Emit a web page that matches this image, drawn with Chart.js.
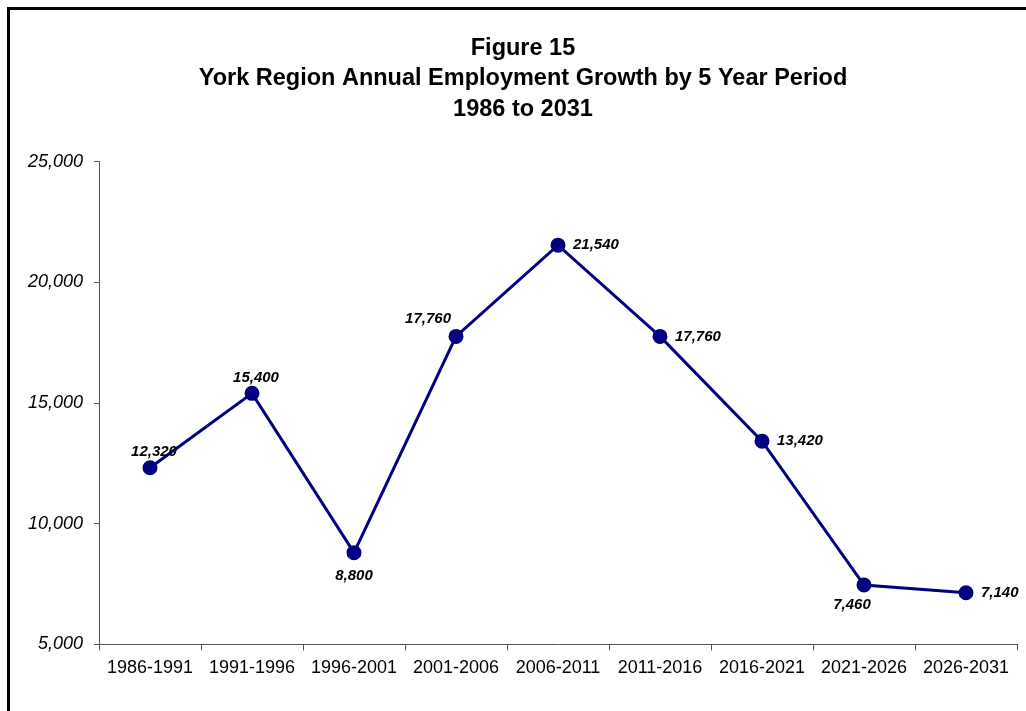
<!DOCTYPE html>
<html>
<head>
<meta charset="utf-8">
<script src="https://cdn.jsdelivr.net/npm/chart.js@4.4.0/dist/chart.umd.min.js"></script>
<style>
    html, body { margin: 0; padding: 0; background: #fff; overflow: hidden; }
    .wrap { position: relative; width: 1026px; height: 711px; }
    .frame {
        position: absolute; left: 7px; top: 7px; width: 1040px; height: 720px;
        border-left: 3px solid #000; border-top: 3px solid #000;
    }
    canvas { position: absolute; left: 0; top: 0; }
</style>
</head>
<body>
<div class="wrap">
    <div class="frame"></div>
    <canvas id="growthChart" width="1026" height="711"></canvas>
</div>
<script>
// datos
const periods = ['1986-1991', '1991-1996', '1996-2001', '2001-2006', '2006-2011',
                 '2011-2016', '2016-2021', '2021-2026', '2026-2031'];
const growth = [12320, 15400, 8800, 17760, 21540, 17760, 13420, 7460, 7140];
const yTicks = [5000, 10000, 15000, 20000, 25000];
// posición de cada etiqueta respecto al punto
const labelPos = ['above', 'above', 'below', 'aboveLeft', 'right', 'right', 'right', 'belowLeft', 'right'];

const NAVY = '#000080';
const FONT = '"Liberation Sans", Arial, sans-serif';

const fmt = v => v.toLocaleString('en-US');

// etiquetas de valor junto a cada punto
const valueLabels = {
    id: 'valueLabels',
    afterDatasetsDraw(chart) {
        const ctx = chart.ctx;
        const meta = chart.getDatasetMeta(0);
        ctx.save();
        ctx.font = 'italic bold 15px ' + FONT;
        ctx.fillStyle = '#000';
        ctx.textBaseline = 'middle';
        meta.data.forEach((pt, i) => {
            const txt = fmt(growth[i]);
            let x = pt.x, y = pt.y, align = 'center';
            switch (labelPos[i]) {
                case 'above': x += 4; y -= 16; break;
                case 'below': y += 23; break;
                case 'aboveLeft': x -= 5; y -= 18; align = 'right'; break;
                case 'right': x += 15; align = 'left'; break;
                case 'belowLeft': x -= 12; y += 20; break;
            }
            ctx.textAlign = align;
            ctx.fillText(txt, x, y);
        });
        ctx.restore();
    }
};

const ctx = document.getElementById('growthChart').getContext('2d');
new Chart(ctx, {
    type: 'line',
    data: {
        labels: periods,
        datasets: [{
            data: growth,
            borderColor: NAVY,
            backgroundColor: NAVY,
            borderWidth: 3,
            pointRadius: 6,
            pointBackgroundColor: NAVY,
            pointBorderColor: NAVY,
            tension: 0
        }]
    },
    options: {
        responsive: false,
        animation: false,
        layout: { padding: { left: 27, right: 7, top: 0, bottom: 25 } },
        plugins: {
            legend: { display: false },
            tooltip: { enabled: false },
            title: {
                display: true,
                text: ['Figure 15', 'York Region Annual Employment Growth by 5 Year Period', '1986 to 2031'],
                color: '#000',
                font: { family: FONT, size: 23.5, weight: 'bold', lineHeight: 1.3 },
                padding: { top: 33, bottom: 37 }
            }
        },
        scales: {
            x: {
                offset: true,
                grid: { offset: true, drawOnChartArea: false, drawTicks: true, tickLength: 6, color: '#555' },
                border: { color: '#555', width: 1 },
                ticks: {
                    color: '#000',
                    padding: 7,
                    maxRotation: 0,
                    autoSkip: false,
                    font: { family: FONT, size: 18 }
                }
            },
            y: {
                min: 5000,
                max: 25000,
                afterFit(scale) { scale.width = 72; },
                afterBuildTicks(scale) { scale.ticks = yTicks.map(v => ({ value: v })); },
                grid: { drawOnChartArea: false, drawTicks: true, tickLength: 5, color: '#555' },
                border: { color: '#555', width: 1 },
                ticks: {
                    color: '#000',
                    padding: 11,
                    font: { family: FONT, size: 18, style: 'italic' },
                    callback: v => fmt(v)
                }
            }
        }
    },
    plugins: [valueLabels]
});
</script>
</body>
</html>
